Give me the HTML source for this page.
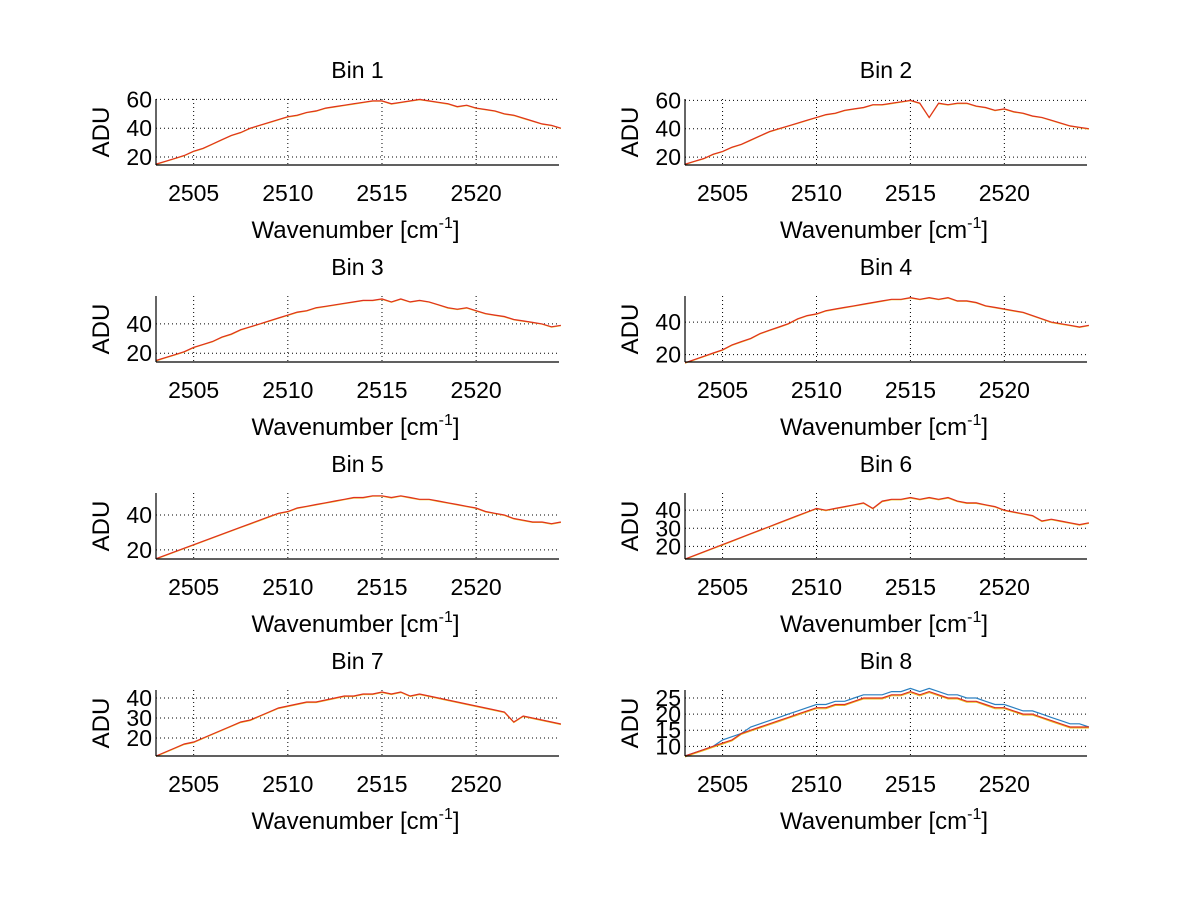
<!DOCTYPE html>
<html><head><meta charset="utf-8"><style>
html,body{margin:0;padding:0;background:#fff;}
svg{display:block;font-family:"Liberation Sans",sans-serif;}
</style></head><body>
<svg id="fig" width="1200" height="901" viewBox="0 0 1200 901"></svg>
<script>
const xTicks=[2505,2510,2515,2520];
const xMin=2503, xMax=2524.4, xStep=0.5;
const binTitles=["Bin 1","Bin 2","Bin 3","Bin 4","Bin 5","Bin 6","Bin 7","Bin 8"];
const yRanges=[[14.4,60.3],[14.4,61],[14,59],[15.5,56],[14.8,52.6],[13,49.5],[11,44],[7,27.5]];
const yTickSets=[[20,40,60],[20,40,60],[20,40],[20,40],[20,40],[20,30,40],[20,30,40],[10,15,20,25]];
const bin1=[15,17,19,21,24,26,29,32,35,37,40,42,44,46,48,49,51,52,54,55,56,57,58,59,59,57,58,59,60,59,58,57,55,56,54,53,52,50,49,47,45,43,42,40];
const bin2=[15,17,19,22,24,27,29,32,35,38,40,42,44,46,48,50,51,53,54,55,57,57,58,59,60,58,48,58,57,58,58,56,55,53,54,52,51,49,48,46,44,42,41,40];
const bin3=[15,17,19,21,24,26,28,31,33,36,38,40,42,44,46,48,49,51,52,53,54,55,56,56,57,55,57,55,56,55,53,51,50,51,49,47,46,45,43,42,41,40,38,39];
const bin4=[15,17,19,21,23,26,28,30,33,35,37,39,42,44,45,47,48,49,50,51,52,53,54,54,55,54,55,54,55,53,53,52,50,49,48,47,46,44,42,40,39,38,37,38];
const bin5=[15,17,19,21,23,25,27,29,31,33,35,37,39,41,42,44,45,46,47,48,49,50,50,51,51,50,51,50,49,49,48,47,46,45,44,42,41,40,38,37,36,36,35,36];
const bin6=[13,15,17,19,21,23,25,27,29,31,33,35,37,39,41,40,41,42,43,44,41,45,46,46,47,46,47,46,47,45,44,44,43,42,40,39,38,37,34,35,34,33,32,33];
const bin7=[11,13,15,17,18,20,22,24,26,28,29,31,33,35,36,37,38,38,39,40,41,41,42,42,43,42,43,41,42,41,40,39,38,37,36,35,34,33,28,31,30,29,28,27];
const bin8red=[7,8,9,10,11,12,14,15,16,17,18,19,20,21,22,22,23,23,24,25,25,25,26,26,27,26,27,26,25,25,24,24,23,22,22,21,20,20,19,18,17,16,16,16];
const bin8blue=[7,8,9,10,12,13,14,16,17,18,19,20,21,22,23,23,24,24,25,26,26,26,27,27,28,27,28,27,26,26,25,25,24,23,23,22,21,21,20,19,18,17,17,16];
const redSeries=[bin1,bin2,bin3,bin4,bin5,bin6,bin7,bin8red];

const NS="http://www.w3.org/2000/svg";
const svg=document.getElementById('fig');
function mk(tag,attrs,parent){const e=document.createElementNS(NS,tag);for(const k in attrs)e.setAttribute(k,attrs[k]);(parent||svg).appendChild(e);return e;}
const colL=[156,559], colR=[685,1087];
const rowTop=[99,296,493,690], rowH=66;
for(let i=0;i<8;i++){
  const col=i%2===0?colL:colR, r=Math.floor(i/2);
  const L=col[0],R=col[1],T=rowTop[r],B=T+rowH;
  const [y0,y1]=yRanges[i];
  const sx=v=>L+(v-xMin)/(xMax-xMin)*(R-L);
  const sy=v=>B-(v-y0)/(y1-y0)*(B-T);
  const g=mk('g',{});
  
  
  const t=mk('text',{x:(L+R)/2,y:T-21,'text-anchor':'middle','font-size':23},g);
  t.textContent=binTitles[i];
  
  
  xTicks.forEach(v=>{
    const x=sx(v);
    mk('line',{x1:x,x2:x,y1:T,y2:B,stroke:'#000','stroke-width':1,'stroke-dasharray':'1,3'},g);
    const lb=mk('text',{x:x,y:B+36,'text-anchor':'middle','font-size':23},g);
    lb.textContent=v;
    
    
  });
  yTickSets[i].forEach(v=>{
    const y=sy(v);
    mk('line',{x1:L,x2:R,y1:y,y2:y,stroke:'#000','stroke-width':1,'stroke-dasharray':'1,3'},g);
    const lb=mk('text',{x:L-4,y:y+8,'text-anchor':'end','font-size':23},g);
    lb.textContent=v;
    
    
  });
  const pts=a=>a.map((v,j)=>sx(xMin+j*xStep).toFixed(1)+','+sy(v).toFixed(1)).join(' ');
  if(i===7){
    const pb=mk('polyline',{points:pts(bin8blue),fill:'none',stroke:'#2a7fc0','stroke-width':1.2},g);
    
    
  }
  const py=mk('polyline',{points:pts(redSeries[i].map(v=>v-0.3)),fill:'none',stroke:'#e8c020','stroke-width':1},g);
  
  
  const pr=mk('polyline',{points:pts(redSeries[i]),fill:'none',stroke:'#e03020','stroke-width':1.2},g);
  
  
  mk('line',{x1:L,x2:L,y1:T,y2:B,stroke:'#000','stroke-width':1.2},g);
  mk('line',{x1:L,x2:R,y1:B,y2:B,stroke:'#000','stroke-width':1.2},g);
  const xl=mk('text',{x:(L+R)/2-2,y:B+73,'text-anchor':'middle','font-size':24},g);
  xl.innerHTML='Wavenumber [cm<tspan dy="-10" font-size="16">-1</tspan><tspan dy="10">]</tspan>';
  
  
  const yl=mk('text',{x:0,y:0,'text-anchor':'middle','font-size':24,transform:`translate(${L-47},${(T+B)/2}) rotate(-90)`},g);
  yl.textContent='ADU';
  
  
}
</script>
</body></html>
